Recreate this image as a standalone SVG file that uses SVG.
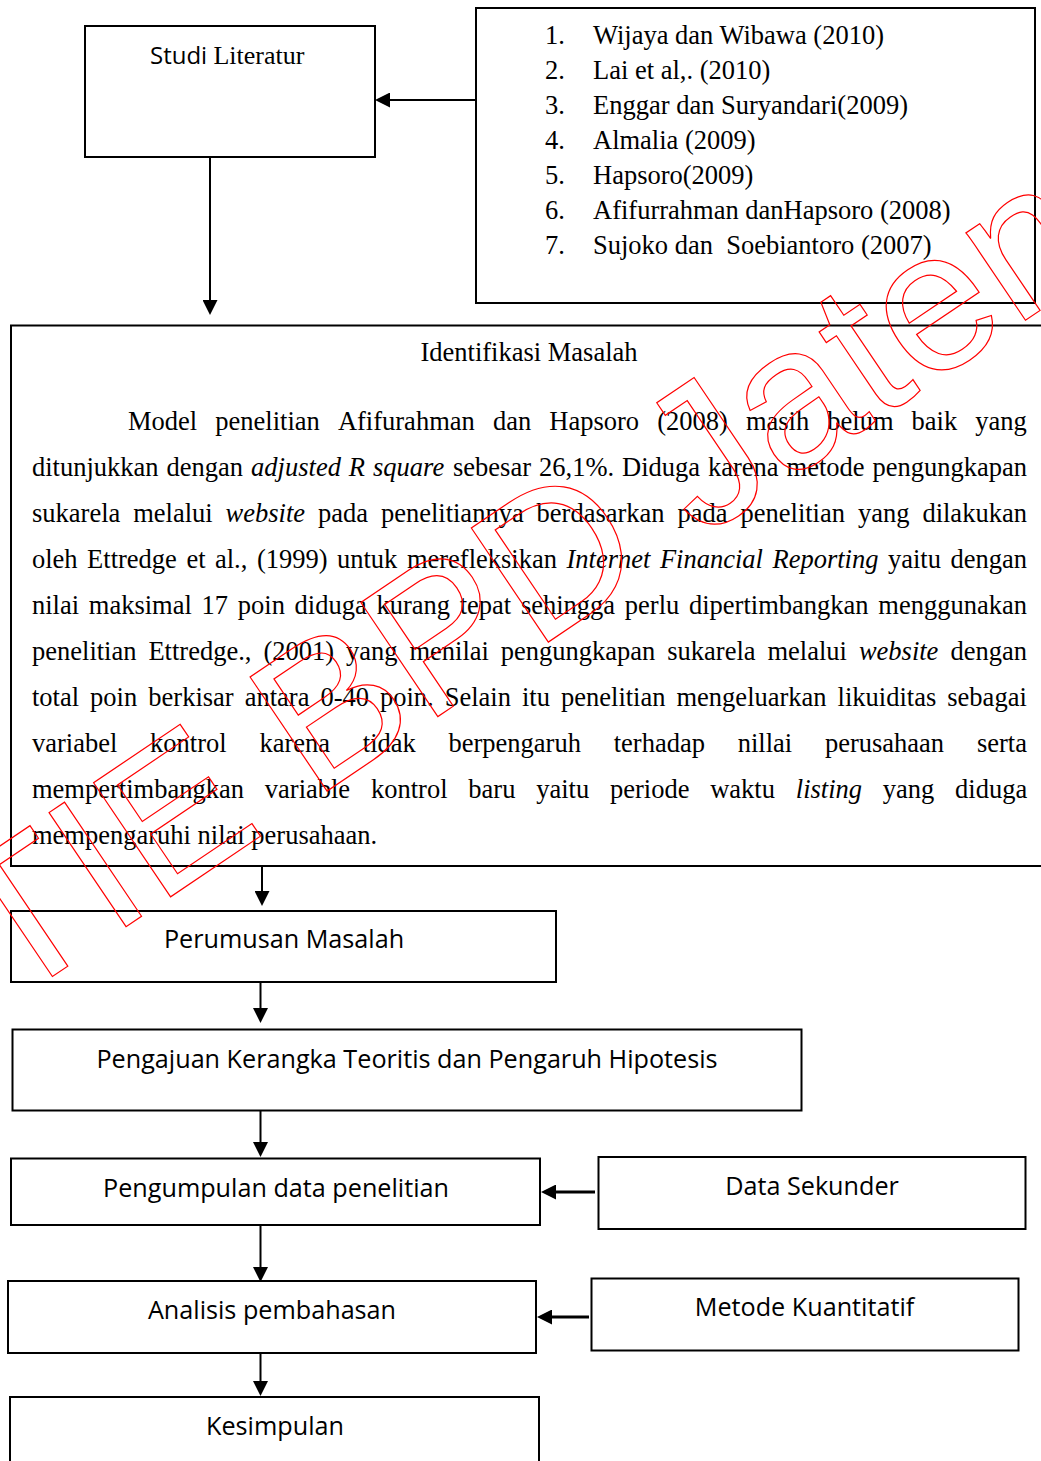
<svg xmlns="http://www.w3.org/2000/svg" width="1041" height="1461" viewBox="0 0 1041 1461">
<style>
.box{fill:#fff;stroke:#000;stroke-width:2}
.serif{font-family:"Liberation Serif","Times New Roman",serif;font-size:26.5px;fill:#000}
.sans{font-family:"Open Sans","Liberation Sans",sans-serif;font-size:25.2px;fill:#000}
.it{font-style:italic}
.conn{stroke:#000;stroke-width:2;fill:none}
.thick{stroke-width:3}
.wm{font-family:"Liberation Sans",Arial,sans-serif;font-size:200px;fill:none;stroke:#f00;stroke-width:1.2}
</style>
<defs>
<marker id="ah" viewBox="0 0 15 15" refX="3" refY="7.5" markerWidth="15" markerHeight="15" markerUnits="userSpaceOnUse" orient="auto">
<path d="M0,0 L15,7.5 L0,15 z" fill="#000"/>
</marker>
</defs>
<rect width="1041" height="1461" fill="#fff"/>

<g id="studi-literatur">
<rect class="box" x="85" y="26" width="290" height="131"/>
<text x="150" y="64" style="font-size:24px"><tspan font-family="Open Sans, Liberation Sans, sans-serif">Studi </tspan><tspan font-family="Liberation Serif, Times New Roman, serif" font-size="26">Literatur</tspan></text>
</g>

<g id="referensi">
<rect class="box" x="476" y="8" width="559" height="295"/>
<g class="serif">
<text x="545" y="44">1.</text><text x="593" y="44">Wijaya dan Wibawa (2010)</text>
<text x="545" y="79">2.</text><text x="593" y="79">Lai et al,. (2010)</text>
<text x="545" y="114">3.</text><text x="593" y="114">Enggar dan Suryandari(2009)</text>
<text x="545" y="149">4.</text><text x="593" y="149">Almalia (2009)</text>
<text x="545" y="184">5.</text><text x="593" y="184">Hapsoro(2009)</text>
<text x="545" y="219">6.</text><text x="593" y="219">Afifurrahman danHapsoro (2008)</text>
<text x="545" y="254">7.</text><text x="593" y="254" xml:space="preserve">Sujoko dan  Soebiantoro (2007)</text>
</g>
</g>

<g id="identifikasi-masalah">
<rect class="box" x="11" y="325.5" width="1040" height="540.5"/>
<g class="serif">
<text x="529" y="360.5" text-anchor="middle">Identifikasi Masalah</text>
<text y="430"><tspan x="128">Model</tspan><tspan x="215.3">penelitian</tspan><tspan x="337.9">Afifurahman</tspan><tspan x="492.9">dan</tspan><tspan x="549.3">Hapsoro</tspan><tspan x="657.2">(2008)</tspan><tspan x="745.9">masih</tspan><tspan x="827.3">belum</tspan><tspan x="911.6">baik</tspan><tspan x="975.3">yang</tspan></text>
<text y="476"><tspan x="32">ditunjukkan</tspan><tspan x="166.6">dengan</tspan><tspan x="251.1" class="it">adjusted</tspan><tspan x="348.8" class="it">R</tspan><tspan x="373" class="it">square</tspan><tspan x="453">sebesar</tspan><tspan x="539">26,1%.</tspan><tspan x="622">Diduga</tspan><tspan x="708">karena</tspan><tspan x="786.6">metode</tspan><tspan x="872.5">pengungkapan</tspan></text>
<text y="522"><tspan x="32">sukarela</tspan><tspan x="133.2">melalui</tspan><tspan x="225.6" class="it">website</tspan><tspan x="318">pada</tspan><tspan x="380.9">penelitiannya</tspan><tspan x="536.6">berdasarkan</tspan><tspan x="677.5">pada</tspan><tspan x="740.5">penelitian</tspan><tspan x="857.9">yang</tspan><tspan x="922.4">dilakukan</tspan></text>
<text y="568"><tspan x="32">oleh</tspan><tspan x="87.1">Ettredge</tspan><tspan x="186.4">et</tspan><tspan x="215">al.,</tspan><tspan x="256.9">(1999)</tspan><tspan x="337">untuk</tspan><tspan x="406.9">merefleksikan</tspan><tspan x="566.5" class="it">Internet</tspan><tspan x="659.9" class="it">Financial</tspan><tspan x="772.5" class="it">Reporting</tspan><tspan x="888">yaitu</tspan><tspan x="950.5">dengan</tspan></text>
<text y="614"><tspan x="32">nilai</tspan><tspan x="88.8">maksimal</tspan><tspan x="201.6">17</tspan><tspan x="237.8">poin</tspan><tspan x="294.6">diduga</tspan><tspan x="376.4">kurang</tspan><tspan x="459.7">tepat</tspan><tspan x="520.9">sehingga</tspan><tspan x="624.8">perlu</tspan><tspan x="689">dipertimbangkan</tspan><tspan x="878.3">menggunakan</tspan></text>
<text y="660"><tspan x="32">penelitian</tspan><tspan x="148.4">Ettredge.,</tspan><tspan x="263.4">(2001)</tspan><tspan x="346">yang</tspan><tspan x="409.4">menilai</tspan><tspan x="500.8">pengungkapan</tspan><tspan x="667.3">sukarela</tspan><tspan x="767.5">melalui</tspan><tspan x="858.9" class="it">website</tspan><tspan x="950.4">dengan</tspan></text>
<text y="706"><tspan x="32">total</tspan><tspan x="90.1">poin</tspan><tspan x="148.3">berkisar</tspan><tspan x="244.7">antara</tspan><tspan x="320.4">0-40</tspan><tspan x="380">poin.</tspan><tspan x="444.7">Selain</tspan><tspan x="522">itu</tspan><tspan x="561">penelitian</tspan><tspan x="676.5">mengeluarkan</tspan><tspan x="837.6">likuiditas</tspan><tspan x="947.3">sebagai</tspan></text>
<text y="752"><tspan x="32">variabel</tspan><tspan x="150.1">kontrol</tspan><tspan x="259.4">karena</tspan><tspan x="362.8">tidak</tspan><tspan x="448.5">berpengaruh</tspan><tspan x="613.7">terhadap</tspan><tspan x="737.7">nillai</tspan><tspan x="824.9">perusahaan</tspan><tspan x="976.9">serta</tspan></text>
<text y="798"><tspan x="32">mempertimbangkan</tspan><tspan x="264.8">variable</tspan><tspan x="371">kontrol</tspan><tspan x="468.3">baru</tspan><tspan x="536.2">yaitu</tspan><tspan x="610">periode</tspan><tspan x="710.2">waktu</tspan><tspan x="795.8" class="it">listing</tspan><tspan x="882.8">yang</tspan><tspan x="955.1">diduga</tspan></text>
<text x="32" y="844">mempengaruhi nilai perusahaan.</text>
</g>
</g>

<g id="perumusan-masalah">
<rect class="box" x="11" y="911" width="545" height="71"/>
<text class="sans" x="284" y="948" text-anchor="middle">Perumusan Masalah</text>
</g>

<g id="pengajuan-kerangka">
<rect class="box" x="12.5" y="1029.5" width="789" height="81"/>
<text class="sans" x="407" y="1068" text-anchor="middle">Pengajuan Kerangka Teoritis dan Pengaruh Hipotesis</text>
</g>

<g id="pengumpulan-data">
<rect class="box" x="11" y="1158.5" width="529" height="66.5"/>
<text class="sans" x="276" y="1197" text-anchor="middle">Pengumpulan data penelitian</text>
</g>

<g id="data-sekunder">
<rect class="box" x="598.5" y="1157" width="427" height="72"/>
<text class="sans" x="812" y="1195" text-anchor="middle">Data Sekunder</text>
</g>

<g id="analisis-pembahasan">
<rect class="box" x="8" y="1281" width="528" height="72"/>
<text class="sans" x="272" y="1319" text-anchor="middle">Analisis pembahasan</text>
</g>

<g id="metode-kuantitatif">
<rect class="box" x="591.5" y="1278.5" width="427" height="72"/>
<text class="sans" x="804.5" y="1316" text-anchor="middle">Metode Kuantitatif</text>
</g>

<g id="kesimpulan">
<rect class="box" x="10" y="1397" width="529" height="100"/>
<text class="sans" x="275" y="1435" text-anchor="middle">Kesimpulan</text>
</g>

<g id="connectors">
<line class="conn" x1="475" y1="100" x2="387" y2="100" marker-end="url(#ah)"/>
<line class="conn" x1="210" y1="158" x2="210" y2="303" marker-end="url(#ah)"/>
<line class="conn" x1="262" y1="867" x2="262" y2="894" marker-end="url(#ah)"/>
<line class="conn" x1="260.5" y1="983" x2="260.5" y2="1011" marker-end="url(#ah)"/>
<line class="conn" x1="260.5" y1="1111" x2="260.5" y2="1145" marker-end="url(#ah)"/>
<line class="conn thick" x1="595" y1="1192" x2="553" y2="1192" marker-end="url(#ah)"/>
<line class="conn" x1="260.5" y1="1226" x2="260.5" y2="1270" marker-end="url(#ah)"/>
<line class="conn thick" x1="589" y1="1317" x2="549" y2="1317" marker-end="url(#ah)"/>
<line class="conn" x1="260.5" y1="1354" x2="260.5" y2="1384" marker-end="url(#ah)"/>
</g>

<g id="watermark">
<text class="wm" transform="translate(-101,1080) rotate(-34)">STIE BPD Jateng</text>
</g>
</svg>
